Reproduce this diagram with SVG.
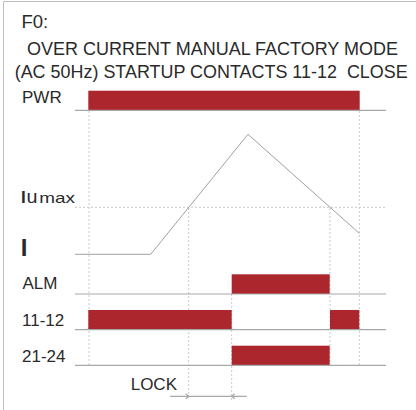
<svg xmlns="http://www.w3.org/2000/svg" width="416" height="410" viewBox="0 0 416 410">
<style>
.t{font-family:"Liberation Sans",Arial,sans-serif;fill:#2a2a2a}
.title{font-size:18.5px}
.lbl{font-size:17px}
.bar{fill:#ab262d}
.base{stroke:#a8a8a8;stroke-width:1.2;fill:none}
.grid{stroke:#c8c8c8;stroke-width:1;stroke-dasharray:2 2;fill:none}
.wave{stroke:#a0a0a0;stroke-width:1;fill:none}
.frame{stroke:#bdbdbd;stroke-width:1;fill:none}
</style>
<rect width="416" height="410" fill="#fff"/>
<path class="frame" d="M3.5,410 V1.5 H416"/>
<g id="title">
<text class="t title" x="21.5" y="28">F0:</text>
<text class="t title" x="27" y="55" textLength="371" lengthAdjust="spacingAndGlyphs">OVER CURRENT MANUAL FACTORY MODE</text>
<text class="t" font-size="18" x="14.7" y="77.7" textLength="393" lengthAdjust="spacingAndGlyphs" xml:space="preserve">(AC 50Hz) STARTUP CONTACTS 11-12  CLOSE</text>
</g>
<g id="grid">
<line class="grid" x1="89" y1="111" x2="89" y2="365"/>
<line class="grid" x1="359.3" y1="111" x2="359.3" y2="365"/>
<line class="grid" x1="188.7" y1="208" x2="188.7" y2="400"/>
<line class="grid" x1="330" y1="208" x2="330" y2="365"/>
<line class="grid" x1="231.7" y1="294" x2="231.7" y2="400"/>
<line class="grid" x1="75" y1="207.3" x2="386" y2="207.3"/>
</g>
<g id="pwr">
<text class="t lbl" x="22" y="103.3">PWR</text>
<rect class="bar" x="88.3" y="90.7" width="271.4" height="19.6"/>
<line class="base" x1="75" y1="110.3" x2="386" y2="110.3"/>
</g>
<g id="current">
<text class="t" x="21" y="203.3" font-size="17" font-weight="bold">I</text>
<text class="t" x="26.5" y="203.3" font-size="17.5" textLength="11" lengthAdjust="spacingAndGlyphs">u</text>
<text class="t" x="39.3" y="203.3" font-size="15" textLength="35.7" lengthAdjust="spacingAndGlyphs">max</text>
<text class="t" x="20.8" y="255.7" font-size="24" font-weight="bold">I</text>
<polyline class="wave" points="75,254.3 150.7,254.3 248,134.3 359.3,233.3"/>
</g>
<g id="alm">
<text class="t lbl" x="22.5" y="289">ALM</text>
<rect class="bar" x="231.7" y="274.3" width="98" height="19.7"/>
<line class="base" x1="75" y1="294" x2="386" y2="294"/>
</g>
<g id="c1112">
<text class="t lbl" x="22" y="326.3">11-12</text>
<rect class="bar" x="88.3" y="310" width="143.4" height="19.7"/>
<rect class="bar" x="330" y="310" width="29.3" height="19.7"/>
<line class="base" x1="75" y1="329.7" x2="386" y2="329.7"/>
</g>
<g id="c2124">
<text class="t lbl" x="22" y="361.7">21-24</text>
<rect class="bar" x="231.7" y="345.7" width="98" height="19.6"/>
<line class="base" x1="75" y1="365.3" x2="386" y2="365.3"/>
</g>
<g id="lock">
<text class="t lbl" x="130.7" y="390">LOCK</text>
<line class="base" x1="170" y1="396.3" x2="246.7" y2="396.3"/>
<path class="base" d="M185.7,393.8 L188.7,396.3 L185.7,398.8 M234.7,393.8 L231.7,396.3 L234.7,398.8"/>
</g>
</svg>
